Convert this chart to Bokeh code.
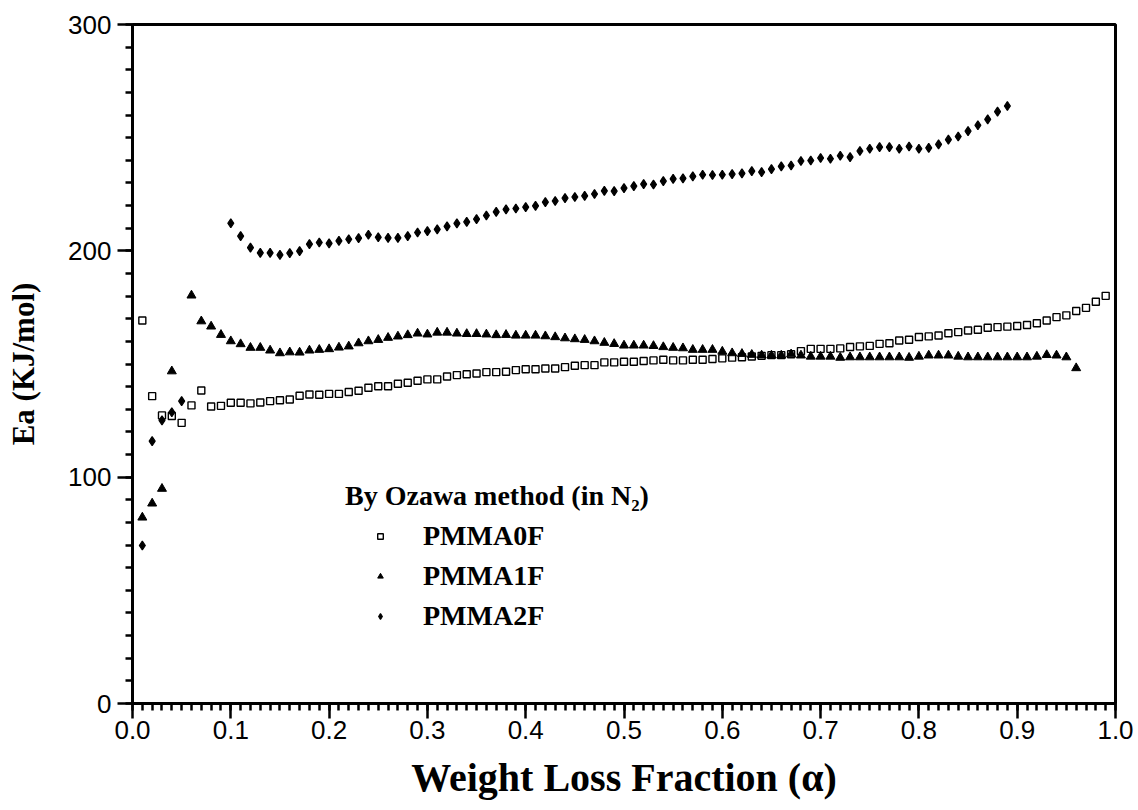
from bokeh.plotting import figure
from bokeh.models import (SingleIntervalTicker, PrintfTickFormatter, Range1d,
                          Legend, LegendItem)
from bokeh.embed import file_html
from bokeh.resources import INLINE

# ---------------- data ----------------
pm0_x = [round(0.01 * i, 2) for i in range(1, 100)]
pm0_y = [169.2, 135.8, 127.3, 127.0, 124.0, 131.7, 138.3, 131.2, 131.5, 132.9,
         132.9, 132.6, 133.0, 133.6, 134.0, 134.3, 136.0, 136.5, 136.4, 136.8,
         136.8, 137.6, 138.2, 139.5, 140.2, 140.2, 141.3, 141.7, 142.6, 143.2,
         143.2, 144.5, 145.1, 145.5, 145.8, 146.4, 146.4, 146.6, 147.3, 147.7,
         147.7, 148.0, 148.0, 148.6, 149.2, 149.5, 149.5, 150.7, 150.7, 151.0,
         151.0, 151.3, 151.6, 151.9, 151.6, 151.6, 151.9, 151.9, 152.2, 152.5,
         152.8, 153.0, 153.3, 153.6, 153.9, 153.9, 154.3, 155.7, 156.7, 156.7,
         156.7, 156.9, 157.5, 157.8, 158.0, 158.9, 159.2, 160.4, 160.7, 161.9,
         162.2, 162.6, 163.6, 164.1, 164.8, 165.1, 166.0, 166.3, 166.5, 166.8,
         167.2, 168.0, 169.2, 170.7, 171.5, 173.4, 174.8, 177.5, 180.1]

pm1_x = [0.01, 0.02, 0.03, 0.04] + [round(0.01 * i, 2) for i in range(6, 97)]
pm1_y = [82.2, 88.4, 94.9, 146.8,
         180.3, 168.9, 166.6, 162.9, 160.1, 158.8, 157.2, 157.2, 156.0, 154.8,
         155.2, 155.1, 156.0, 156.3, 156.6, 157.3, 157.8, 159.2, 160.1, 160.7,
         161.6, 162.2, 162.8, 163.5, 163.1, 163.9, 163.9, 163.5, 163.3, 163.3,
         163.1, 162.8, 162.9, 162.6, 162.6, 162.6, 162.3, 161.9, 161.4, 161.0,
         160.7, 160.1, 159.4, 158.9, 158.2, 158.2, 158.2, 158.0, 157.5, 157.2,
         157.0, 156.3, 156.3, 156.3, 155.5, 154.8, 154.5, 154.1, 153.8, 153.8,
         153.8, 154.3, 153.8, 153.3, 153.3, 153.3, 152.8, 153.0, 153.0, 153.0,
         153.0, 153.0, 153.0, 152.8, 153.3, 153.8, 153.8, 153.8, 153.3, 153.0,
         153.0, 153.0, 153.0, 153.0, 153.0, 153.0, 153.3, 154.0, 153.8, 153.0,
         148.2]

pm2_x = [0.01, 0.02, 0.03, 0.04, 0.05] + [round(0.01 * i, 2) for i in range(10, 90)]
pm2_y = [69.8, 115.9, 125.1, 128.7, 133.6,
         212.2, 206.5, 201.4, 199.1, 199.1, 198.2, 199.0, 199.9, 203.0, 203.7,
         203.3, 204.4, 205.1, 205.6, 207.1, 206.0, 205.7, 205.7, 206.5, 208.1,
         208.7, 209.5, 210.8, 212.1, 212.8, 214.0, 215.6, 217.2, 218.3, 218.7,
         219.3, 219.9, 221.5, 222.0, 223.3, 223.8, 224.3, 225.1, 226.5, 226.4,
         227.7, 228.6, 229.5, 229.3, 230.8, 231.8, 232.0, 232.9, 233.6, 233.5,
         233.6, 233.9, 234.2, 235.2, 234.8, 236.1, 237.3, 237.7, 239.7, 239.9,
         241.0, 240.7, 242.0, 241.4, 244.1, 245.1, 245.8, 245.8, 245.1, 246.1,
         245.1, 245.5, 247.0, 249.1, 250.5, 252.9, 255.5, 258.1, 261.5, 264.0]

series_names = ["PMMA0F", "PMMA1F", "PMMA2F"]
legend_title = "By Ozawa method (in N\u2082)"
x_label = "Weight Loss Fraction (\u03b1)"
y_label = "Ea (KJ/mol)"

SANS = "Liberation Sans"
SERIF = "Liberation Serif"

p = figure(width=1138, height=810, output_backend="svg", toolbar_location=None,
           min_border_left=132, min_border_right=23, min_border_top=24,
           min_border_bottom=107,
           x_range=Range1d(0, 1.0), y_range=Range1d(0, 300))
p.grid.visible = False
p.outline_line_color = "black"
p.outline_line_width = 3
p.background_fill_color = "white"
p.border_fill_color = "white"

p.xaxis.ticker = SingleIntervalTicker(interval=0.1, num_minor_ticks=10)
p.yaxis.ticker = SingleIntervalTicker(interval=100, num_minor_ticks=10)
p.xaxis.formatter = PrintfTickFormatter(format="%.1f")

for ax in (p.xaxis, p.yaxis):
    ax.axis_line_width = 3
    ax.axis_line_color = "black"
    ax.major_tick_line_width = 2.5
    ax.minor_tick_line_width = 2.5
    ax.major_tick_out = 15
    ax.major_tick_in = 0
    ax.minor_tick_out = 7
    ax.minor_tick_in = 0
    ax.major_label_text_font = SANS
    ax.major_label_text_font_size = "26px"
    ax.major_label_text_color = "black"
    ax.axis_label_text_font = SERIF
    ax.axis_label_text_font_style = "bold"
    ax.axis_label_text_color = "black"

p.xaxis.axis_label = x_label
p.yaxis.axis_label = y_label
p.xaxis.axis_label_text_font_size = "40px"
p.yaxis.axis_label_text_font_size = "31px"
p.xaxis.major_label_standoff = 2
p.yaxis.major_label_standoff = 6
p.xaxis.axis_label_standoff = 13
p.yaxis.axis_label_standoff = 24

r0 = p.scatter(pm0_x, pm0_y, marker="square", size=7, fill_color="white",
               line_color="black", line_width=1.4)
r1 = p.scatter(pm1_x, pm1_y, marker="triangle", size=9, fill_color="black",
               line_color="black")
r2 = p.scatter(pm2_x, pm2_y, marker="diamond", size=9, fill_color="black",
               line_color="black", line_width=1.2)

legend = Legend(items=[LegendItem(label=series_names[0], renderers=[r0]),
                       LegendItem(label=series_names[1], renderers=[r1]),
                       LegendItem(label=series_names[2], renderers=[r2])],
                location=(213, 71), title=legend_title)
legend.border_line_color = None
legend.background_fill_alpha = 0
legend.padding = 0
legend.margin = 0
legend.glyph_width = 70
legend.glyph_height = 14
legend.label_height = 14
legend.spacing = 8
legend.label_standoff = 8
legend.label_text_font = SERIF
legend.label_text_font_style = "bold"
legend.label_text_font_size = "28px"
legend.label_text_color = "black"
legend.title_text_font = SERIF
legend.title_text_font_style = "bold"
legend.title_text_font_size = "28px"
legend.title_text_color = "black"
legend.title_standoff = 8
p.add_layout(legend)

open("out.html", "w").write(file_html(p, INLINE))
